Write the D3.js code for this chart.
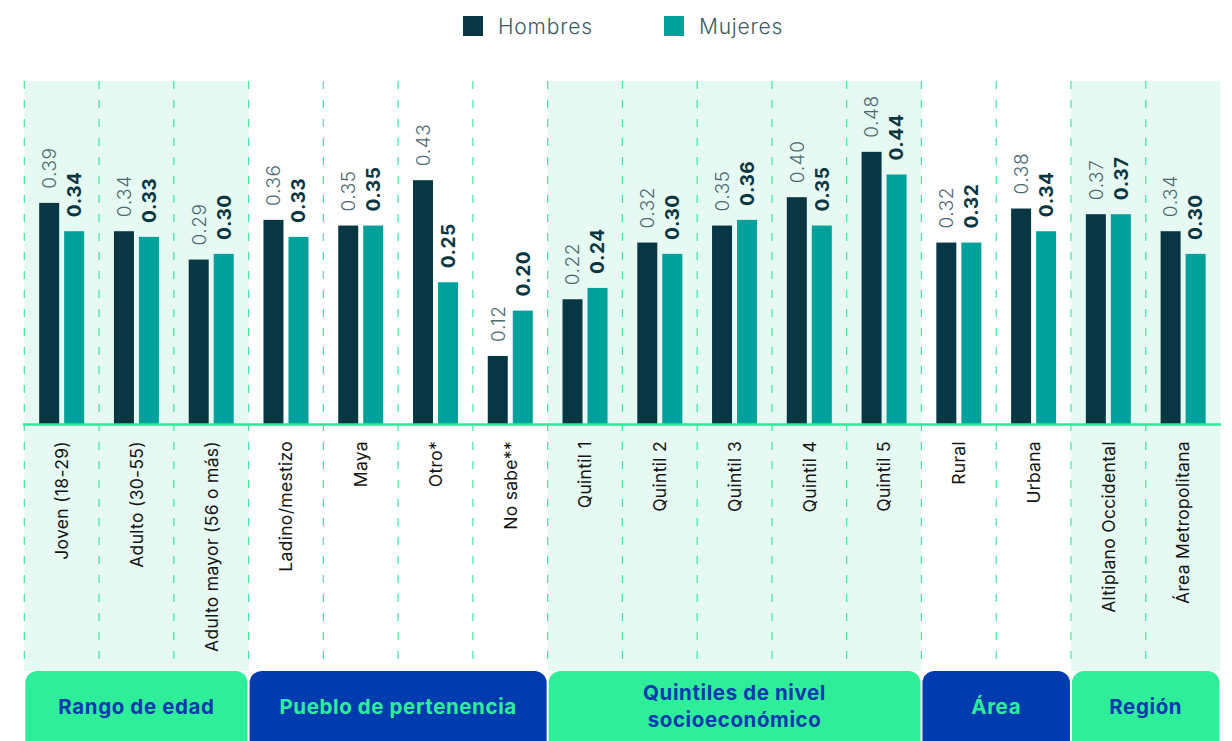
<!DOCTYPE html>
<html lang="es">
  <head>
    <meta charset="utf-8">
    <title>Hombres y Mujeres por grupo</title>
    <script type="text/javascript" src="https://cdn.jsdelivr.net/npm/d3@7/dist/d3.min.js" charset="utf-8"></script>
    <style type="text/css">
      body { margin: 0; background: #fff; }
      svg { display: block; font-family: Inter, "Open Sans", sans-serif; }
    </style>
  </head>
  <body>
<script type="text/javascript">

// categories and values
var categories = ["Joven (18-29)", "Adulto (30-55)", "Adulto mayor (56 o más)",
  "Ladino/mestizo", "Maya", "Otro*", "No sabe**",
  "Quintil 1", "Quintil 2", "Quintil 3", "Quintil 4", "Quintil 5",
  "Rural", "Urbana",
  "Altiplano Occidental", "Área Metropolitana"];
var hombres = [0.39, 0.34, 0.29, 0.36, 0.35, 0.43, 0.12, 0.22, 0.32, 0.35, 0.40, 0.48, 0.32, 0.38, 0.37, 0.34];
var mujeres = [0.34, 0.33, 0.30, 0.33, 0.35, 0.25, 0.20, 0.24, 0.30, 0.36, 0.35, 0.44, 0.32, 0.34, 0.37, 0.30];
var seriesNames = ["Hombres", "Mujeres"];

// groups below the axis
var groupNames = [["Rango de edad"], ["Pueblo de pertenencia"], ["Quintiles de nivel", "socioeconómico"], ["Área"], ["Región"]];
var groupSizes = [3, 4, 5, 2, 2];

var colors = {Hombres: "#083743", Mujeres: "#00a19a"};
var width = 1232, height = 741;

var svg = d3.select("body").append("svg")
    .attr("width", width)
    .attr("height", height);

var x = d3.scaleBand()
    .domain(categories)
    .range([24.3, 1220.5])
    .padding(0);
var bw = x.bandwidth();

var xSub = d3.scaleBand()
    .domain(seriesNames)
    .range([bw / 2 - 22.5, bw / 2 + 22.5])
    .paddingInner(0.2);

var y = d3.scaleLinear()
    .domain([0, 0.6])
    .range([424, 424 - 0.6 * 567]);

// group extents
var groups = [], start = 0;
groupNames.forEach(function(n, i) {
  groups.push({name: n, start: start, end: start + groupSizes[i], shade: i % 2 == 0});
  start += groupSizes[i];
});
function gx0(g) { return x(categories[g.start]); }
function gx1(g) { return g.end >= categories.length ? x.range()[1] : x(categories[g.end]); }

// shaded backgrounds
svg.append("g").selectAll("rect").data(groups.filter(g => g.shade)).join("rect")
    .attr("x", gx0)
    .attr("y", 81)
    .attr("width", g => gx1(g) - gx0(g))
    .attr("height", 671 - 81)
    .attr("fill", "#e6f9f2");

// dashed column lines
svg.append("g").selectAll("line").data(categories).join("line")
    .attr("x1", d => x(d)).attr("x2", d => x(d))
    .attr("y1", 81).attr("y2", 669)
    .attr("stroke", "#3de8a0")
    .attr("stroke-width", 1.2)
    .attr("stroke-dasharray", "8,11");

// bars
var rows = categories.map(function(c, i) {
  return {cat: c, vals: [{key: "Hombres", v: hombres[i]}, {key: "Mujeres", v: mujeres[i]}]};
});

var col = svg.append("g").selectAll("g").data(rows).join("g")
    .attr("transform", d => "translate(" + x(d.cat) + ",0)");

col.selectAll("rect").data(d => d.vals).join("rect")
    .attr("x", d => xSub(d.key))
    .attr("y", d => y(d.v))
    .attr("width", xSub.bandwidth())
    .attr("height", d => y(0) - y(d.v))
    .attr("fill", d => colors[d.key]);

col.selectAll("text").data(d => d.vals).join("text")
    .attr("transform", d => "translate(" + (xSub(d.key) + xSub.bandwidth() / 2) + "," + (y(d.v) - 14) + ") rotate(-90)")
    .attr("dy", "0.36em")
    .attr("text-anchor", "start")
    .attr("font-size", 19)
    .attr("letter-spacing", 0.6)
    .attr("font-weight", d => d.key == "Hombres" ? 300 : 700)
    .attr("fill", d => d.key == "Hombres" ? "#4b6a70" : "#0a3642")
    .text(d => d3.format(".2f")(d.v));

// baseline
svg.append("line")
    .attr("x1", 23).attr("x2", 1221)
    .attr("y1", y(0) + 0.5).attr("y2", y(0) + 0.5)
    .attr("stroke", "#2ee89a")
    .attr("stroke-width", 2.5);

// category labels
svg.append("g").selectAll("text").data(categories).join("text")
    .attr("transform", d => "translate(" + (x(d) + bw / 2) + ",441) rotate(-90)")
    .attr("dy", "0.36em")
    .attr("text-anchor", "end")
    .attr("font-size", 17.5)
    .attr("letter-spacing", 0.3)
    .attr("fill", "#151515")
    .text(d => d);

// group boxes
var gb = svg.append("g").selectAll("g").data(groups).join("g");
gb.append("rect")
    .attr("x", g => gx0(g) + 1)
    .attr("y", 671)
    .attr("width", g => gx1(g) - gx0(g) - 2)
    .attr("height", 90)
    .attr("rx", 12)
    .attr("fill", g => g.shade ? "#2eee9a" : "#003cb0");
gb.each(function(g) {
  var t = d3.select(this).append("text")
      .attr("text-anchor", "middle")
      .attr("font-size", 20.5)
      .attr("letter-spacing", 0.6)
      .attr("font-weight", 700)
      .attr("fill", g.shade ? "#0b3aaf" : "#2eee9a");
  var cy = g.name.length > 1 ? 693 : 707;
  g.name.forEach(function(line, i) {
    t.append("tspan")
        .attr("x", (gx0(g) + gx1(g)) / 2)
        .attr("y", cy + i * 27)
        .attr("dy", "0.36em")
        .text(line);
  });
});

// legend
var legend = svg.append("g").selectAll("g").data(seriesNames).join("g")
    .attr("transform", (d, i) => "translate(" + [463, 664][i] + ",16)");
legend.append("rect")
    .attr("width", 20).attr("height", 20)
    .attr("fill", d => colors[d]);
legend.append("text")
    .attr("x", 35).attr("y", 10)
    .attr("dy", "0.36em")
    .attr("font-size", 21)
    .attr("letter-spacing", 0.8)
    .attr("font-weight", 300)
    .attr("fill", "#3b5a60")
    .text(d => d);

</script>
  </body>
</html>
